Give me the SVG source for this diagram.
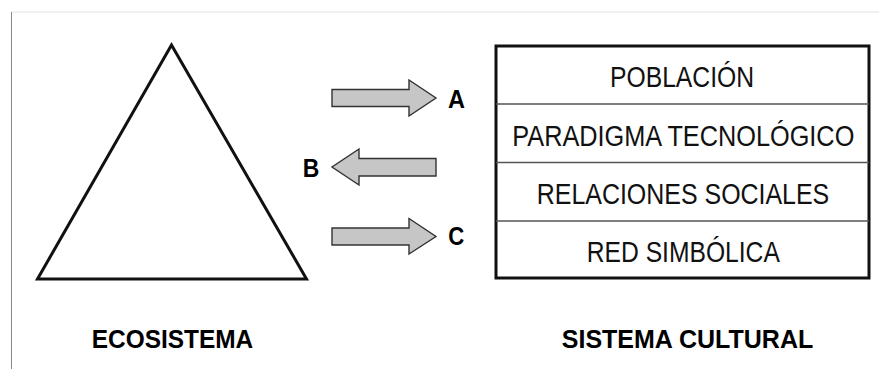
<svg xmlns="http://www.w3.org/2000/svg" width="879" height="369" viewBox="0 0 879 369">
<style>
.lbl{font-family:"Liberation Sans",Arial,sans-serif;font-weight:bold;font-size:26px;fill:#000}
.row{font-family:"Liberation Sans",Arial,sans-serif;font-size:24.8px;fill:#111;text-anchor:middle}
.ttl{font-family:"Liberation Sans",Arial,sans-serif;font-weight:bold;font-size:25.5px;fill:#000;text-anchor:middle}
.arr{fill:#c6c6c6;stroke:#333;stroke-width:1.4;stroke-linejoin:miter}
</style>
<rect width="879" height="369" fill="#fff"/>
<line x1="11" y1="12" x2="879" y2="12" stroke="#e2e2e2" stroke-width="1"/>
<line x1="11.5" y1="12" x2="11.5" y2="369" stroke="#888" stroke-width="1"/>
<g id="ecosistema">
<polygon points="171.5,45 37.5,279 306.5,279" fill="#fff" stroke="#111" stroke-width="3"/>
<text class="ttl" x="172.5" y="347.5" textLength="161.5" lengthAdjust="spacingAndGlyphs">ECOSISTEMA</text>
</g>
<g id="sistema-cultural">
<rect x="496" y="46" width="373" height="232" fill="#fff" stroke="#111" stroke-width="3"/>
<line x1="496" y1="104" x2="869" y2="104" stroke="#555" stroke-width="1.5"/>
<line x1="496" y1="162.5" x2="869" y2="162.5" stroke="#555" stroke-width="1.5"/>
<line x1="496" y1="221" x2="869" y2="221" stroke="#555" stroke-width="1.5"/>
<text class="row" transform="translate(682,86.5) scale(1,1.17)" textLength="144" lengthAdjust="spacingAndGlyphs">POBLACIÓN</text>
<text class="row" transform="translate(683.3,145.5) scale(1,1.17)" textLength="342" lengthAdjust="spacingAndGlyphs">PARADIGMA TECNOLÓGICO</text>
<text class="row" transform="translate(683,203.5) scale(1,1.17)" textLength="292.5" lengthAdjust="spacingAndGlyphs">RELACIONES SOCIALES</text>
<text class="row" transform="translate(683.3,261.5) scale(1,1.17)" textLength="193" lengthAdjust="spacingAndGlyphs">RED SIMBÓLICA</text>
<text class="ttl" x="687.5" y="347.5" textLength="251.5" lengthAdjust="spacingAndGlyphs">SISTEMA CULTURAL</text>
</g>
<g id="connectors">
<polygon class="arr" points="332,89.5 409,89.5 409,80 436,98 409,116 409,106.5 332,106.5"/>
<polygon class="arr" points="436,158.5 359,158.5 359,149 332,167 359,185 359,176 436,176"/>
<polygon class="arr" points="332,228 409,228 409,218.5 436,236.5 409,254 409,245 332,245"/>
</g>
<g id="labels">
<text class="lbl" x="448" y="107.7" textLength="17" lengthAdjust="spacingAndGlyphs">A</text>
<text class="lbl" x="302.7" y="176.5" textLength="16.6" lengthAdjust="spacingAndGlyphs">B</text>
<text class="lbl" x="448.3" y="245" textLength="16" lengthAdjust="spacingAndGlyphs">C</text>
</g>
</svg>
